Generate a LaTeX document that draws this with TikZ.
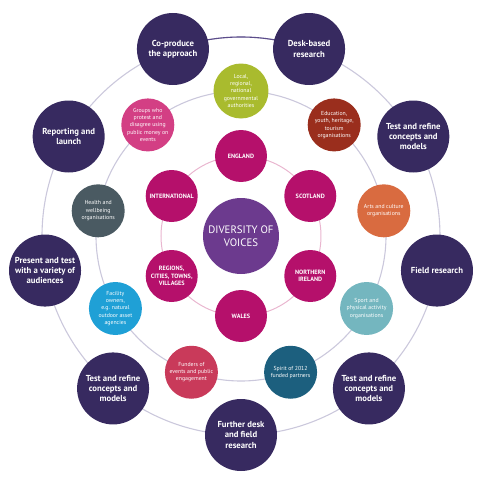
\documentclass[tikz,border=0pt]{standalone}
\usepackage{fontspec}
\setmainfont{PT Sans}
\definecolor{stagepurple}{HTML}{372A60}
\definecolor{voicepurple}{HTML}{6C3A8E}
\definecolor{nationred}{HTML}{B5106B}
\definecolor{ringgrey}{HTML}{CBC8DC}
\definecolor{ringpink}{HTML}{E9B6CF}
\definecolor{arcpurple}{HTML}{5B4C8A}
\definecolor{govgreen}{HTML}{A9BB2E}
\definecolor{edubrown}{HTML}{9A2E1D}
\definecolor{artsorange}{HTML}{D96B40}
\definecolor{sportteal}{HTML}{74B6BF}
\definecolor{spiritteal}{HTML}{1C5F7E}
\definecolor{fundred}{HTML}{C93A5A}
\definecolor{facilcyan}{HTML}{1FA0D6}
\definecolor{healthslate}{HTML}{4A5A62}
\definecolor{protestpink}{HTML}{D33F84}

\begin{document}
\begin{tikzpicture}[x=1pt, y=1pt,
	stagenode/.style={circle, fill=stagepurple, text=white, minimum size=72pt, inner sep=0pt, align=center, font=\fontsize{8.7}{10.2}\selectfont\bfseries},
	groupnode/.style={circle, text=white, minimum size=53pt, inner sep=0pt, align=center, font=\fontsize{5.8}{7.3}\selectfont},
	nationnode/.style={circle, fill=nationred, text=white, minimum size=52pt, inner sep=0pt, align=center, font=\fontsize{6.2}{7.4}\selectfont\bfseries},
	ring/.style={draw=ringgrey, line width=1.1pt}]
	\useasboundingbox (-241,-244) rectangle (239,236);
	\coordinate (hub) at (0,0);
	
	\draw [ring] (hub) circle (199pt);
	\draw [ring] (hub) circle (145pt);
	\draw [ring, draw=ringpink, line width=1pt] (hub) circle (80pt);
	\draw [ring, draw=arcpurple] (hub) ++(110:199) arc [start angle=110, end angle=70, radius=199pt];
	
	\node [circle, fill=voicepurple, text=white, minimum size=76pt, inner sep=0pt, align=center, font=\fontsize{10.8}{12.5}\selectfont] (voices) at (hub) {DIVERSITY OF\\VOICES};
	
	\node [nationnode] (england) at (90:80) {ENGLAND};
	\node [nationnode] (scotland) at (30:80) {SCOTLAND};
	\node [nationnode] (nireland) at (-30:80) {NORTHERN\\IRELAND};
	\node [nationnode] (wales) at (-90:80) {WALES};
	\node [nationnode] (regions) at (-150:80) {REGIONS,\\CITIES, TOWNS,\\VILLAGES};
	\node [nationnode] (intl) at (150:80) {INTERNATIONAL};
	
	\node [groupnode, fill=govgreen, minimum size=55pt] (gov) at (90:145) {Local,\\regional,\\national\\governmental\\authorities};
	\node [groupnode, fill=edubrown] (edu) at (50:145) {Education,\\youth, heritage,\\tourism\\organisations};
	\node [groupnode, fill=artsorange] (arts) at (10:145) {Arts and culture\\organisations};
	\node [groupnode, fill=sportteal] (sport) at (-30:145) {Sport and\\physical activity\\organisations};
	\node [groupnode, fill=spiritteal] (spirit) at (-70:145) {Spirit of 2012\\funded partners};
	\node [groupnode, fill=fundred] (funders) at (-110:145) {Funders of\\events and public\\engagement};
	\node [groupnode, fill=facilcyan] (facility) at (-150:145) {Facility\\owners,\\e.g. natural\\outdoor asset\\agencies};
	\node [groupnode, fill=healthslate] (health) at (170:145) {Health and\\wellbeing\\organisations};
	\node [groupnode, fill=protestpink] (protest) at (130:145) {Groups who\\protest and\\disagree using\\public money on\\events};
	
	\node [stagenode] (coprod) at (110:199) {Co-produce\\the approach};
	\node [stagenode] (desk) at (70:199) {Desk-based\\research};
	\node [stagenode] (testa) at (30:199) {Test and refine\\concepts and\\models};
	\node [stagenode] (field) at (-10:199) {Field research};
	\node [stagenode] (testb) at (-50:199) {Test and refine\\concepts and\\models};
	\node [stagenode] (further) at (-90:199) {Further desk\\and field\\research};
	\node [stagenode] (testc) at (-130:199) {Test and refine\\concepts and\\models};
	\node [stagenode] (present) at (190:199) {Present and test\\with a variety of\\audiences};
	\node [stagenode] (report) at (150:199) {Reporting and\\launch};
\end{tikzpicture}
\end{document}
